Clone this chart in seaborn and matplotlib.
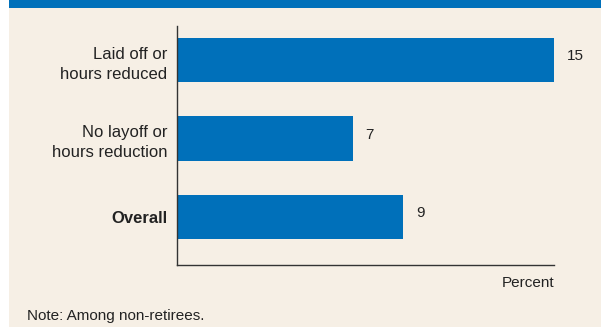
import matplotlib
matplotlib.use("Agg")
import matplotlib.pyplot as plt
from matplotlib.patches import Rectangle
import seaborn as sns
import pandas as pd

categories = ["Laid off or\nhours reduced", "No layoff or\nhours reduction", "Overall"]
values = [15, 7, 9]
value_labels = ["15", "7", "9"]

BLUE = "#0070BA"
BEIGE = "#F6EFE5"

sns.set_theme(style="white")
plt.rcParams["font.family"] = ["Liberation Sans Narrow", "Liberation Sans", "DejaVu Sans"]

W, H = 601, 330
fig = plt.figure(figsize=(W / 100, H / 100), dpi=100)
fig.patch.set_facecolor("white")

# panel background and top band
fig.patches.append(Rectangle((9 / W, 3 / H), 1 - 9 / W, 1 - 3 / H, transform=fig.transFigure,
                             facecolor=BEIGE, edgecolor="none", zorder=-2))
fig.patches.append(Rectangle((9 / W, 1 - 7.5 / H), 1 - 9 / W, 7.5 / H, transform=fig.transFigure,
                             facecolor=BLUE, edgecolor="none", zorder=-1))

ax = fig.add_axes([177 / W, 1 - 265 / H, (554 - 177) / W, (265 - 26) / H])
ax.set_zorder(2)
ax.set_facecolor("none")

df = pd.DataFrame({"category": categories, "value": values})
sns.barplot(data=df, x="value", y="category", orient="h", color=BLUE,
            width=0.57, saturation=1, linewidth=0, ax=ax)

ax.set_xlim(0, 15)
ax.set_ylim(2.61, -0.433)
ax.set_xticks([])
ax.set_xlabel("")
ax.set_ylabel("")
for s in ["top", "right"]:
    ax.spines[s].set_visible(False)
for s in ["left", "bottom"]:
    ax.spines[s].set_color("#333333")
    ax.spines[s].set_linewidth(1.0)

ax.tick_params(axis="y", length=0, pad=7)
for lbl in ax.get_yticklabels():
    lbl.set_fontsize(12)
    lbl.set_color("#222222")
    lbl.set_horizontalalignment("right")
    lbl.set_multialignment("right")
    lbl.set_linespacing(1.45)
    if lbl.get_text() == "Overall":
        lbl.set_fontweight("bold")

for i, (v, t) in enumerate(zip(values, value_labels)):
    ax.text(v + 0.5, i - 0.05, t, va="center", ha="left", fontsize=11, color="#222222")

fig.text(554 / W, 1 - 283 / H, "Percent", ha="right", va="center", fontsize=11, color="#222222")
fig.text(27 / W, 1 - 316 / H, "Note: Among non-retirees.", ha="left", va="center",
         fontsize=11, color="#222222")

fig.savefig("out.png", dpi=100, facecolor=fig.get_facecolor())
